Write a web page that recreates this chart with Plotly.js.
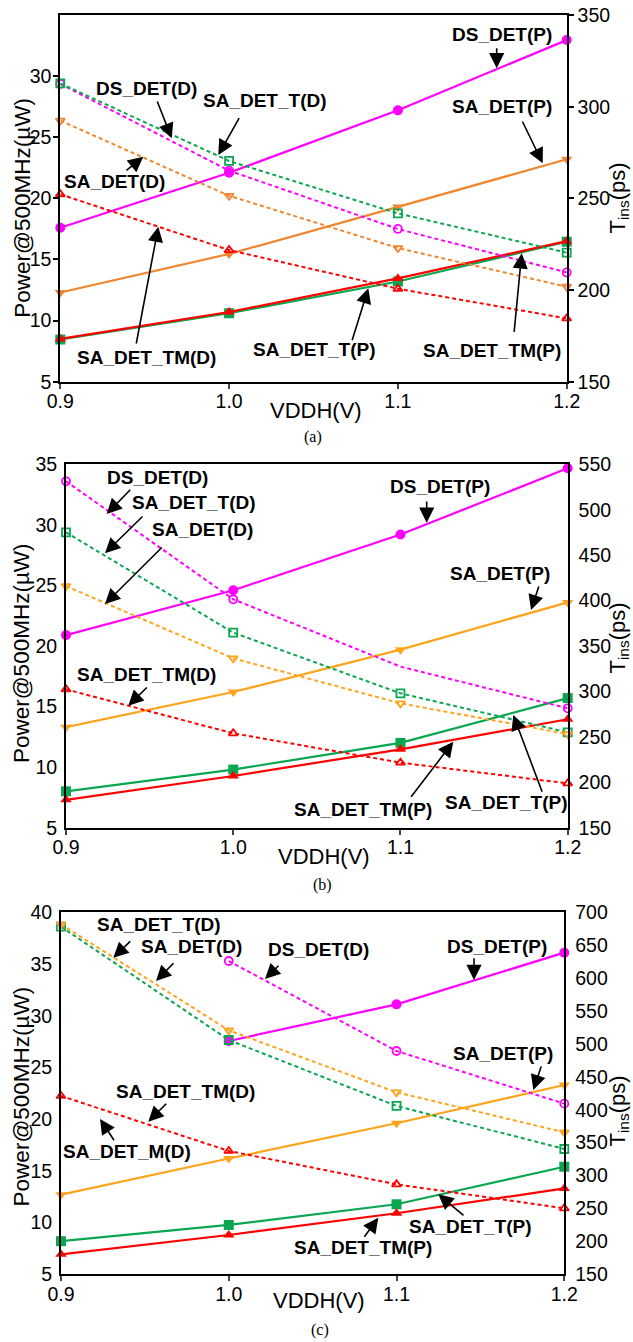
<!DOCTYPE html>
<html>
<head>
<meta charset="utf-8">
<script src="https://cdn.plot.ly/plotly-3.0.1.min.js"></script>
<style>html,body{margin:0;padding:0;background:#fff;}#chart{width:633px;height:1342px;}</style>
</head>
<body>
<div id="chart"></div>
<script>
// ---------- data ----------
const vddh = [0.9, 1.0, 1.1, 1.2];
const vddhTickText = ['0.9', '1.0', '1.1', '1.2'];

// panel (a): power (uW, left axis) and T_ins (ps, right axis)
const aPowerDS   = [17.6, 22.1, 27.2, 32.95];
const aPowerSA   = [12.3, 15.45, 19.3, 23.2];
const aPowerSAT  = [8.45, 10.6, 13.2, 16.45];
const aPowerSATM = [8.5, 10.7, 13.45, 16.5];
const aDelayDS   = [312.4, 265.1, 233.3, 209.6];
const aDelaySAT  = [312.7, 270.4, 241.8, 220.4];
const aDelaySA   = [292.4, 251.4, 222.9, 201.8];
const aDelaySATM = [252.2, 221.8, 200.7, 184.5];

// panel (b)
const bPowerDS   = [20.9, 24.6, 29.2, 34.67];
const bPowerSA   = [13.3, 16.2, 19.7, 23.6];
const bPowerSAT  = [8.0, 9.8, 12.0, 15.7];
const bPowerSATM = [7.3, 9.27, 11.47, 13.95];
const bDelayDS   = [531.3, 401.4, 327.3, 281.4];
const bDelaySAT  = [475.1, 364.7, 297.9, 255.0];
const bDelaySA   = [416.0, 336.4, 286.9, 253.1];
const bDelaySATM = [302.3, 253.9, 221.6, 198.8];

// panel (c)
const cPowerDS   = [null, 27.56, 31.1, 36.1];
const cPowerSA   = [12.7, 16.2, 19.6, 23.3];
const cPowerSAT  = [8.2, 9.77, 11.77, 15.4];
const cPowerSATM = [6.93, 8.8, 10.9, 13.3];
const cDelayDS   = [null, 626.0, 489.3, 409.3];
const cDelaySAT  = [678.2, 506.0, 405.8, 340.4];
const cDelaySA   = [681.8, 520.7, 426.5, 365.7];
const cDelaySATM = [421.0, 337.4, 286.7, 250.3];

// axis tick values
const aPowerTicks = [5, 10, 15, 20, 25, 30];
const bPowerTicks = [5, 10, 15, 20, 25, 30, 35];
const cPowerTicks = [5, 10, 15, 20, 25, 30, 35, 40];
const aDelayTicks = [150, 200, 250, 300, 350];
const bDelayTicks = [150, 200, 250, 300, 350, 400, 450, 500, 550];
const cDelayTicks = [150, 200, 250, 300, 350, 400, 450, 500, 550, 600, 650, 700];

// ---------- layout helpers ----------
const W = 633, H = 1342;
const MAGENTA = '#FF00FF', RED = '#FF0000', GREEN = '#0AA650';
const FONT = 'Arial, "Liberation Sans", sans-serif';

const panels = [
  {x0: 60.3, x1: 566.7, top: 15, bottom: 381.7, pRange: [5, 35], dRange: [150, 350],
   pTicks: aPowerTicks, dTicks: aDelayTicks, swapTicks: false, orange: '#F0852D',
   power: [aPowerDS, aPowerSA, aPowerSAT, aPowerSATM], delay: [aDelayDS, aDelaySAT, aDelaySA, aDelaySATM],
   hideDelayDSAt: -1},
  {x0: 66, x1: 567.7, top: 464.3, bottom: 827.7, pRange: [5, 35], dRange: [150, 550],
   pTicks: bPowerTicks, dTicks: bDelayTicks, swapTicks: true, orange: '#FFA31A',
   power: [bPowerDS, bPowerSA, bPowerSAT, bPowerSATM], delay: [bDelayDS, bDelaySAT, bDelaySA, bDelaySATM],
   hideDelayDSAt: 2},
  {x0: 61, x1: 564.3, top: 912.3, bottom: 1274.3, pRange: [5, 40], dRange: [150, 700],
   pTicks: cPowerTicks, dTicks: cDelayTicks, swapTicks: true, orange: '#FFA31A',
   power: [cPowerDS, cPowerSA, cPowerSAT, cPowerSATM], delay: [cDelayDS, cDelaySAT, cDelaySA, cDelaySATM],
   hideDelayDSAt: -1}
];

const traces = [];
const layout = {
  width: W, height: H, autosize: false,
  margin: {l: 0, r: 0, t: 0, b: 0},
  paper_bgcolor: '#fff', plot_bgcolor: 'rgba(0,0,0,0)',
  showlegend: false,
  font: {family: FONT, color: '#000'},
  annotations: []
};

function axKey(n) { return n === 1 ? '' : String(n); }

panels.forEach((p, i) => {
  const xn = i + 1;
  const base = 4 * i + 1;
  const xRef = 'x' + axKey(xn);
  const yL = base, yR = base + 1, yTL = base + 2, yTR = base + 3;
  const yLref = 'y' + axKey(yL), yRref = 'y' + axKey(yR);

  layout['xaxis' + axKey(xn)] = {
    domain: [p.x0 / W, p.x1 / W], anchor: yLref, range: [0.9, 1.2],
    tickvals: vddh, ticktext: vddhTickText, ticks: 'outside', ticklen: 5, tickwidth: 2,
    ticklabelstandoff: -4,
    showline: true, linewidth: 2, linecolor: '#000', mirror: true,
    showgrid: false, zeroline: false,
    tickfont: {family: FONT, size: 19.5, color: '#000'}
  };
  const tickCol = p.swapTicks ? 'rgba(0,0,0,0)' : '#000';
  layout['yaxis' + axKey(yL)] = {
    domain: [1 - p.bottom / H, 1 - p.top / H], anchor: xRef, range: p.pRange,
    tickvals: p.pTicks, ticks: 'outside', ticklen: 5, tickwidth: 2, tickcolor: tickCol,
    ticklabelstandoff: -2,
    showline: true, linewidth: 2, linecolor: '#000',
    showgrid: false, zeroline: false,
    tickfont: {family: FONT, size: 19.5, color: '#000'}
  };
  layout['yaxis' + axKey(yR)] = {
    overlaying: yLref, side: 'right', anchor: xRef, range: p.dRange,
    tickvals: p.dTicks, ticks: 'outside', ticklen: 5, tickwidth: 2, tickcolor: tickCol,
    showline: true, linewidth: 2, linecolor: '#000',
    showgrid: false, zeroline: false,
    tickfont: {family: FONT, size: 19.5, color: '#000'}
  };
  if (p.swapTicks) {
    // tick marks on each side follow the opposite axis' scale (as in the original figure)
    layout['yaxis' + axKey(yTL)] = {
      overlaying: yLref, side: 'left', anchor: xRef, range: p.dRange,
      tickvals: p.dTicks, ticks: 'outside', ticklen: 5, tickwidth: 2, tickcolor: '#000',
      showticklabels: false, showline: false, showgrid: false, zeroline: false
    };
    layout['yaxis' + axKey(yTR)] = {
      overlaying: yLref, side: 'right', anchor: xRef, range: p.pRange,
      tickvals: p.pTicks, ticks: 'outside', ticklen: 5, tickwidth: 2, tickcolor: '#000',
      showticklabels: false, showline: false, showgrid: false, zeroline: false
    };
  }

  const colors = [MAGENTA, p.orange, GREEN, RED];
  const filled = ['circle', 'triangle-down', 'square', 'triangle-up'];
  const open = ['circle-open', 'triangle-down-open', 'square-open', 'triangle-up-open'];
  const delayColors = [MAGENTA, GREEN, p.orange, RED];
  const delayOpen = [open[0], open[2], open[1], open[3]];

  p.delay.forEach((ys, k) => {
    const op = ys.map((v, j) => (k === 0 && j === p.hideDelayDSAt) ? 0 : 1);
    traces.push({
      x: vddh, y: ys, xaxis: xRef, yaxis: yRref, type: 'scatter', mode: 'lines+markers',
      connectgaps: false, hoverinfo: 'skip', cliponaxis: false,
      line: {color: delayColors[k], width: 2, dash: '4px,3px'},
      marker: {symbol: delayOpen[k], size: 8, color: delayColors[k], opacity: op, line: {width: 1.8, color: delayColors[k]}}
    });
  });
  p.power.forEach((ys, k) => {
    traces.push({
      x: vddh, y: ys, xaxis: xRef, yaxis: yLref, type: 'scatter', mode: 'lines+markers',
      connectgaps: false, hoverinfo: 'skip', cliponaxis: false,
      line: {color: colors[k], width: 2.2},
      marker: {symbol: filled[k], size: 10, color: colors[k], line: {width: 0}}
    });
  });
});

// ---------- text & arrows ----------
function label(text, cx, cy, size, opts) {
  opts = opts || {};
  layout.annotations.push(Object.assign({
    text: text, x: cx / W, y: 1 - cy / H, xref: 'paper', yref: 'paper',
    xanchor: 'center', yanchor: 'middle', showarrow: false,
    font: {family: FONT, size: size, color: '#000'}
  }, opts));
}
function tag(text, cx, cy) { label('<b>' + text + '</b>', cx, cy, 19); }
function arrow(tx, ty, hx, hy) {
  layout.annotations.push({
    text: '', x: hx / W, y: 1 - hy / H, xref: 'paper', yref: 'paper',
    ax: tx - hx, ay: ty - hy, showarrow: true,
    arrowhead: 2, arrowsize: 1.9, arrowwidth: 1.6, arrowcolor: '#000', standoff: 0
  });
}

// panel (a)
tag('DS_DET(D)', 146.7, 88.3);     arrow(156.7, 100, 171.7, 138.3);
tag('SA_DET_T(D)', 265, 100);      arrow(240, 116.7, 218.3, 155);
tag('SA_DET(D)', 114, 181.7);      arrow(125, 171.7, 143.3, 156.7);
tag('SA_DET_TM(D)', 146.7, 357.3); arrow(136, 345, 158.3, 226.7);
tag('SA_DET_T(P)', 313.8, 349.3);  arrow(351.7, 341.7, 368.3, 288.3);
tag('SA_DET_TM(P)', 492.5, 350);   arrow(514, 333.3, 521.7, 253.3);
tag('DS_DET(P)', 501.7, 34.3);     arrow(496.7, 46.7, 496.7, 68.3);
tag('SA_DET(P)', 501.7, 106);      arrow(521.7, 120, 542.7, 163.3);

// panel (b)
tag('DS_DET(D)', 157.3, 477.7);    arrow(131.7, 488.3, 106.7, 514);
tag('SA_DET_T(D)', 194.2, 502.3);  arrow(144, 515, 105, 553.3);
tag('SA_DET(D)', 202.5, 529.3);    arrow(163.3, 546, 105, 604);
tag('SA_DET_TM(D)', 146.3, 674.3); arrow(148.3, 686, 128.3, 705.7);
tag('DS_DET(P)', 440, 486);        arrow(426.7, 500, 426.7, 522.7);
tag('SA_DET(P)', 499.7, 573.3);    arrow(539.3, 585, 531, 610);
tag('SA_DET_TM(P)', 362.5, 809.3); arrow(410, 798.3, 453.3, 741.7);
tag('SA_DET_T(P)', 506.3, 802.7);  arrow(542.7, 793.3, 513.3, 715);

// panel (c)
tag('SA_DET_T(D)', 159.2, 924.3);  arrow(131.7, 940, 113.3, 957.7);
tag('SA_DET(D)', 191.2, 946);      arrow(175, 961.7, 156, 981);
tag('DS_DET(D)', 318.8, 949.3);    arrow(280, 964.3, 265, 979);
tag('SA_DET_TM(D)', 185.8, 1091);  arrow(167.7, 1102.3, 148.3, 1121.7);
tag('SA_DET_M(D)', 127, 1151);     arrow(115, 1141.7, 100, 1119);
tag('DS_DET(P)', 497.2, 946.7);    arrow(474, 956.7, 474, 980);
tag('SA_DET(P)', 502.5, 1053.7);   arrow(541.7, 1065, 533.3, 1090);
tag('SA_DET_T(P)', 470.3, 1226);   arrow(465, 1216.7, 438.3, 1194.3);
tag('SA_DET_TM(P)', 363, 1247.3);  arrow(363.3, 1238.3, 378.3, 1217.7);

// axis titles
const xTitleY = [410, 856.7, 1300];
const xTitleX = [315.7, 324, 319];
const yTitleY = [208, 653.3, 1096.7];
const rTitleY = [198, 638, 1111];
const captionY = [437, 885, 1330];
const captionX = [313, 322, 320];
const captions = ['(a)', '(b)', '(c)'];
for (let i = 0; i < 3; i++) {
  label('VDDH(V)', xTitleX[i], xTitleY[i], 22);
  label('Power@500MHz(\u00B5W)', 21.7, yTitleY[i], 22.5, {textangle: -90});
  label('T<sub>ins</sub>(ps)', 618.5, rTitleY[i], 22, {textangle: -90});
  label(captions[i], captionX[i], captionY[i], 16, {font: {family: '"Liberation Serif", "Times New Roman", serif', size: 16, color: '#000'}});
}

Plotly.newPlot('chart', traces, layout, {staticPlot: true, displayModeBar: false});
</script>
</body>
</html>
